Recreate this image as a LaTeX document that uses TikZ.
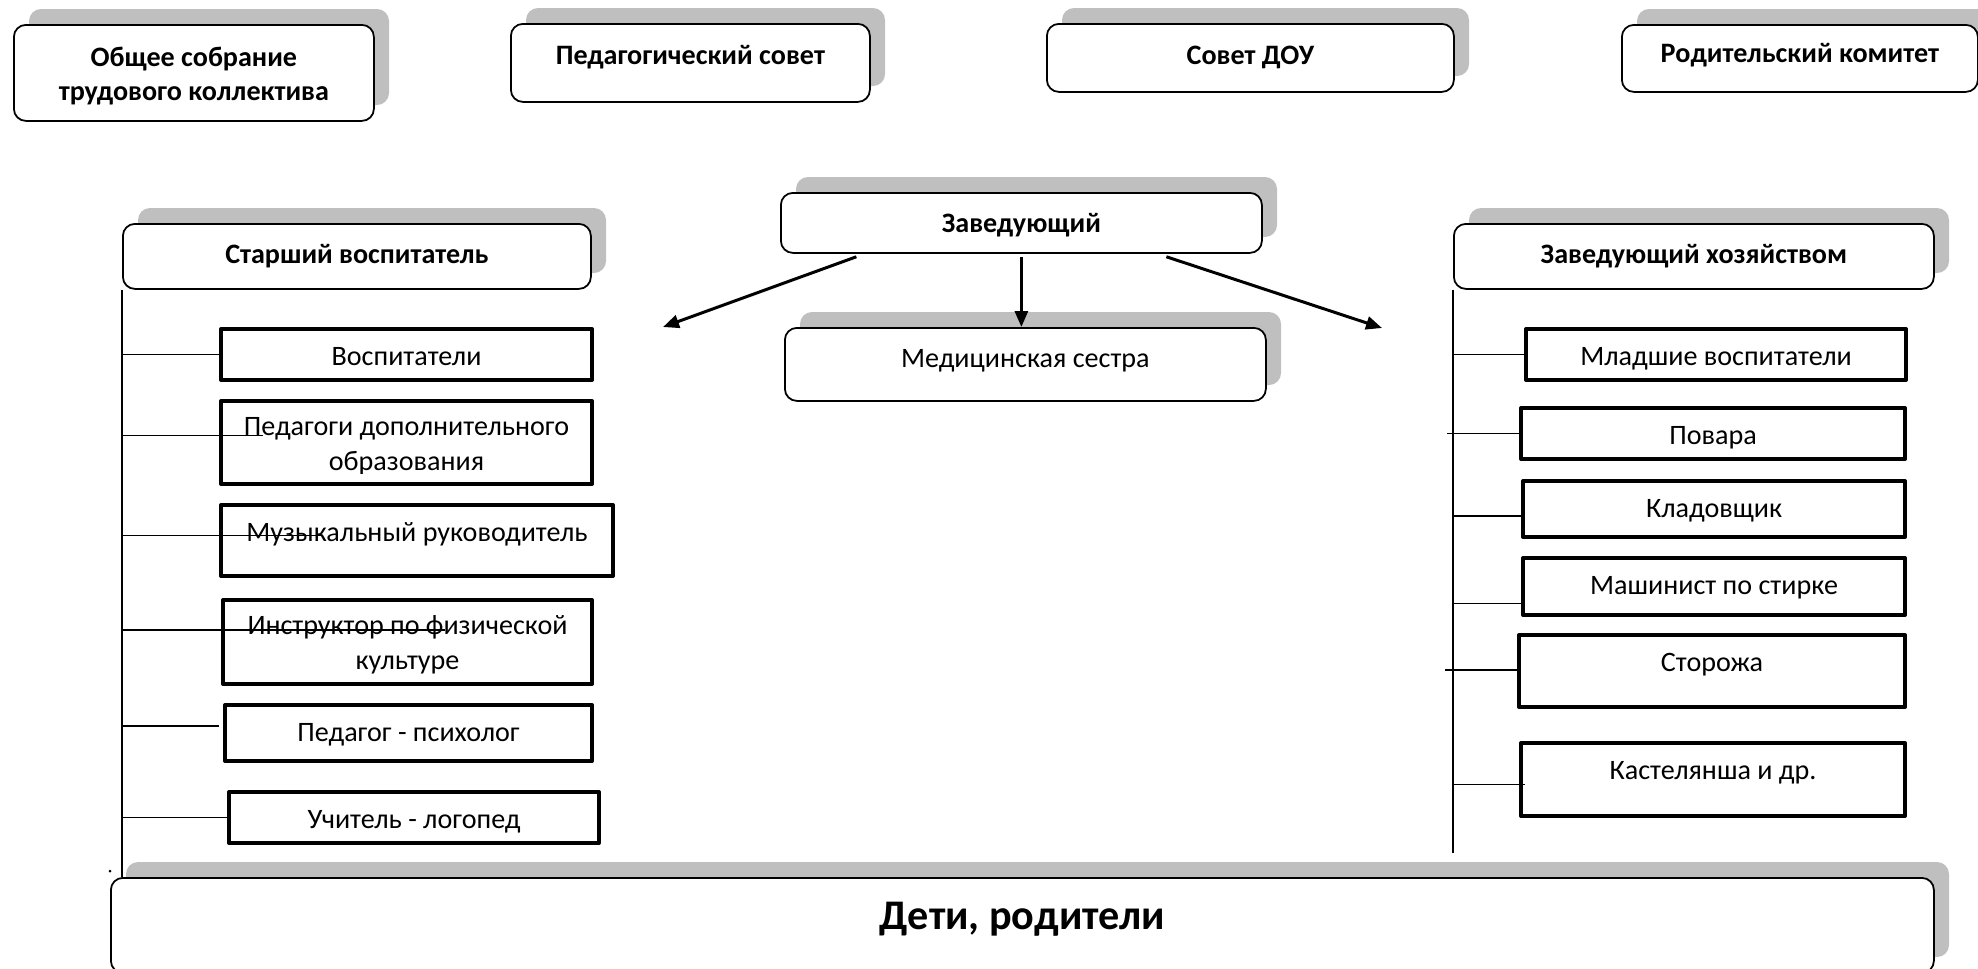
\documentclass[tikz,border=0pt]{standalone}
\usepackage{fontspec}
\setmainfont{Carlito}
\usetikzlibrary{calc,arrows.meta}
\definecolor{shd}{HTML}{BFBFBF}
\begin{document}
\begin{tikzpicture}[x=0.02cm, y=-0.02cm, line join=round, >={Triangle[length=0.32cm,width=0.26cm]},
	rbox/.style={draw, fill=white, line width=1pt, rounded corners=0.24cm, inner sep=0, anchor=north west},
	sh/.style={fill=shd, rounded corners=0.24cm},
	sbox/.style={draw, fill=white, line width=2.3pt, inner sep=0, anchor=north west},
	hd/.style={font=\fontsize{16}{19}\selectfont\bfseries, anchor=base, align=center},
	tx/.style={font=\fontsize{16}{19.5}\selectfont, anchor=base, align=center}]
	\useasboundingbox (0,0) rectangle (1978,968);
	\foreach \n/\xa/\ya/\xb/\yb in {os/13/24/373/120, ps/510/23/869/101, sd/1046/23/1453/91, rk/1621/24/1977/91, zav/780/192/1261/252, med/784/327/1265/400, star/122/223/590/288, zh/1453/223/1933/288, kids/110/877/1933/972}{
		\fill[sh] (\xa+16,\ya-15) rectangle (\xb+16,\yb-15);
		\node[rbox, minimum width=(\xb-\xa)*0.02cm, minimum height=(\yb-\ya)*0.02cm] (\n) at (\xa,\ya) {};}
	\foreach \n/\dy/\t in {os/76/{Общее собрание\\трудового коллектива}, ps/41/{Педагогический совет}, sd/41/{Совет ДОУ}, rk/38/{Родительский комитет}, zav/40/{Заведующий}, star/40/{Старший воспитатель}, zh/40/{Заведующий хозяйством}}{
		\node[hd] (\n-t) at ($(\n.north)+(0,\dy)$) {\t};}
	\node[tx] (med-t) at ($(med.north)+(0,40)$) {Медицинская сестра};
	\node[font=\fontsize{24}{28}\selectfont\bfseries, anchor=base] (kids-t) at ($(kids.north)+(0,52)$) {Дети, родители};
	\foreach \n/\xa/\ya/\xb/\yb/\dy/\t in {vosp/219/327/590/378/38/{Воспитатели}, pdo/219/399/590/482/71/{Педагоги дополнительного\\образования}, muz/219/503/611/574/38/{Музыкальный руководитель}, instr/221/598/590/682/71/{Инструктор по физической\\культуре}, psy/223/703/590/759/38/{Педагог - психолог}, logo/227/790/597/841/38/{Учитель - логопед}, mlad/1524/327/1904/378/38/{Младшие воспитатели}, pov/1519/406/1903/457/38/{Повара}, klad/1521/479/1903/535/38/{Кладовщик}, mash/1521/556/1903/613/38/{Машинист по стирке}, stor/1517/633/1903/705/38/{Сторожа}, kast/1519/741/1903/814/38/{Кастелянша и др.}}{
		\node[sbox, minimum width=(\xb-\xa)*0.02cm, minimum height=(\yb-\ya)*0.02cm] (\n) at (\xa,\ya) {};
		\begin{scope}
			\clip (\n.north west) rectangle ($(\n.south east)+(0,-13)$);
			\node[tx] (\n-t) at ($(\n.north)+(0,\dy)$) {\t};
		\end{scope}}
	\draw[line width=1pt] (star.south west) -- (star.south west |- kids.north);
	\draw[line width=1pt] (zh.south west) -- ($(zh.south west |- kids.north)+(0,-24)$);
	\foreach \n/\dy/\dx in {vosp/0/0, pdo/-7/44, muz/-5/103, instr/-12/224, psy/-7/-4, logo/0/0}{
		\draw[line width=1pt] ($(\n.west -| star.south west)+(0,\dy)$) -- ($(\n.west)+(\dx,\dy)$);}
	\foreach \n/\dy/\sx/\dx in {mlad/0/0/0, pov/0/-6/0, klad/7/-1/0, mash/17/0/0, stor/-1/-8/0, kast/5/-1/6}{
		\draw[line width=1pt] ($(\n.west -| zh.south west)+(\sx,\dy)$) -- ($(\n.west)+(\dx,\dy)$);}
	\coordinate (la) at (663,327); \coordinate (ra) at (1382,328);
	\draw[->, line width=1.7pt] ($(zav.south)+(-165,3)$) -- (la);
	\draw[->, line width=1.7pt] ($(zav.south)+(0,3)$) -- (zav.south |- med.north);
	\draw[->, line width=1.7pt] ($(zav.south)+(145,3)$) -- (ra);
	\fill (110,871) circle (1.5);
\end{tikzpicture}
\end{document}
